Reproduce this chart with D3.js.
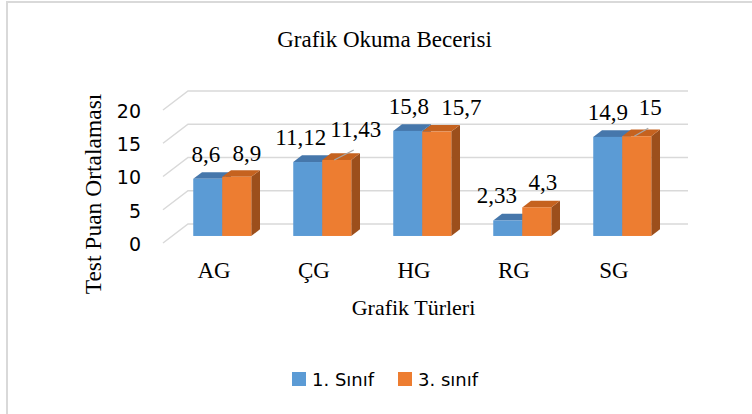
<!DOCTYPE html>
<html><head><meta charset="utf-8">
<script src="https://cdn.jsdelivr.net/npm/d3@7"></script>
<style>html,body{margin:0;padding:0;background:#fff}svg{display:block}</style>
</head><body>
<script>
const categories = ["AG", "ÇG", "HG", "RG", "SG"];
const seriesNames = ["1. Sınıf", "3. sınıf"];
const sinif1 = [8.6, 11.12, 15.8, 2.33, 14.9];
const sinif3 = [8.9, 11.43, 15.7, 4.3, 15];
const labels1 = ["8,6", "11,12", "15,8", "2,33", "14,9"];
const labels3 = ["8,9", "11,43", "15,7", "4,3", "15"];
const yTicks = [0, 5, 10, 15, 20];
const title = "Grafik Okuma Becerisi";
const xTitle = "Grafik Türleri";
const yTitle = "Test Puan Ortalaması";

const W = 752, H = 414;
const svg = d3.select("body").append("svg").attr("width", W).attr("height", H);
svg.append("rect").attr("width", W).attr("height", H).attr("fill", "#fff");
// frame
svg.append("path").attr("d", `M7,${H} L7,2 L${W},2`).attr("fill", "none")
  .attr("stroke", "#d9d9d9").attr("stroke-width", 2);

const colors = ["#5b9bd5", "#ed7d31"];
const topCol = ["#4677ab", "#c5621f"];
const sideCol = ["#3d6894", "#9c4f1c"];

const serif = "'Liberation Serif','Times New Roman',serif";
const sans = "'DejaVu Sans',sans-serif";

// 3D geometry
const DX = 25, DY = 19;          // floor depth
const y0 = 243;                  // front floor baseline
const x = d3.scaleBand().domain(categories).range([163, 663]).padding(0);
const xs = d3.scaleBand().domain(seriesNames).range([21, 79]).padding(0);
const y = d3.scaleLinear().domain([0, 20]).range([y0, y0 - 133]);
const bf = 0.37, bb = 0.72;      // bar front/back depth fractions

// gridlines (back wall + left wall diagonal)
const grid = svg.append("g").attr("stroke", "#d9d9d9").attr("stroke-width", 1.5).attr("fill", "none");
yTicks.forEach(t => {
  const yf = y(t);
  grid.append("path").attr("d", `M${x.range()[0]},${yf} L${x.range()[0] + DX},${yf - DY} L${x.range()[1] + DX},${yf - DY}`);
});

// y tick labels
svg.append("g").selectAll("text").data(yTicks).join("text")
  .attr("x", 141).attr("y", d => y(d) + 1).attr("dy", "0.36em")
  .attr("text-anchor", "end").attr("font-family", sans).attr("font-size", 19)
  .attr("fill", "#000").text(d => d);

// bars
const series = [sinif1, sinif3];
const bars = svg.append("g");
categories.forEach((c, i) => {
  series.forEach((vals, s) => {
    const v = vals[i];
    const x0 = x(c) + xs(seriesNames[s]) + bf * DX;
    const x1 = x0 + xs.bandwidth();
    const yb = y0 - bf * DY;
    const yt = y(v) - bf * DY;
    const ddx = (bb - bf) * DX, ddy = (bb - bf) * DY;
    bars.append("path").attr("d", `M${x1},${yb} L${x1 + ddx},${yb - ddy} L${x1 + ddx},${yt - ddy} L${x1},${yt} Z`)
      .attr("fill", sideCol[s]);
    bars.append("path").attr("d", `M${x0},${yt} L${x0 + ddx},${yt - ddy} L${x1 + ddx},${yt - ddy} L${x1},${yt} Z`)
      .attr("fill", topCol[s]);
    bars.append("rect").attr("x", x0).attr("y", yt).attr("width", x1 - x0).attr("height", yb - yt)
      .attr("fill", colors[s]);
  });
});

// value labels (layout nudges for overlap avoidance, as in the original)
const nudge = [
  [[-2, 0], [-7, 0], [1, 0], [-11, 0], [0, 0]],
  [[10, 1], [19, -6], [24.5, 0], [6, 0], [13.5, -4]]
];
const leader = [[false, false, false, false, false], [false, true, false, false, true]];
const lbl = svg.append("g");
const labelSets = [labels1, labels3];
categories.forEach((c, i) => {
  series.forEach((vals, s) => {
    const v = vals[i];
    const x0 = x(c) + xs(seriesNames[s]) + bf * DX;
    const cx = x0 + xs.bandwidth() / 2;
    const yt = y(v) - bf * DY;
    const lx = cx + nudge[s][i][0], ly = yt - 17 + nudge[s][i][1];
    if (leader[s][i]) {
      lbl.append("line").attr("x1", x0 + 12).attr("y1", yt).attr("x2", lx - 2).attr("y2", ly + 13)
        .attr("stroke", "#a6a6a6").attr("stroke-width", 1.2);
    }
    lbl.append("text").attr("x", lx).attr("y", ly).attr("text-anchor", "middle")
      .attr("font-family", serif).attr("font-size", 23).attr("fill", "#000")
      .text(labelSets[s][i]);
  });
});

// category labels
svg.append("g").selectAll("text").data(categories).join("text")
  .attr("x", d => x(d) + x.bandwidth() / 2 + 1).attr("y", 278)
  .attr("text-anchor", "middle").attr("font-family", serif).attr("font-size", 23)
  .attr("fill", "#000").text(d => d);

// titles
svg.append("text").attr("x", 384.5).attr("y", 46.5).attr("text-anchor", "middle")
  .attr("font-family", serif).attr("font-size", 23).attr("fill", "#000").text(title);
svg.append("text").attr("x", 413.5).attr("y", 315).attr("text-anchor", "middle")
  .attr("font-family", serif).attr("font-size", 22).attr("fill", "#000").text(xTitle);
svg.append("text").attr("transform", "translate(101,194) rotate(-90)").attr("text-anchor", "middle")
  .attr("font-family", serif).attr("font-size", 23.5).attr("fill", "#000").text(yTitle);

// legend
const leg = svg.append("g");
const legX = [292, 398];
seriesNames.forEach((n, s) => {
  leg.append("rect").attr("x", legX[s]).attr("y", 372).attr("width", 14).attr("height", 14).attr("fill", colors[s]);
  leg.append("text").attr("x", legX[s] + 20).attr("y", 386).attr("font-family", sans).attr("font-size", 18)
    .attr("fill", "#000").text(n);
});
</script>
</body></html>
